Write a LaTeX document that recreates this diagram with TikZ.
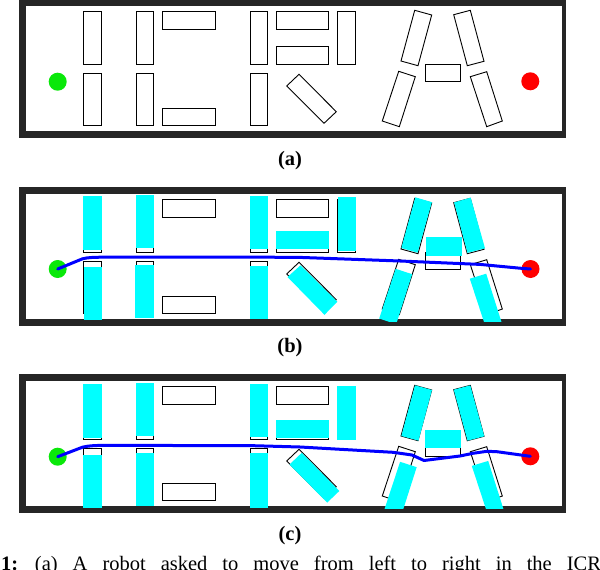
\documentclass[tikz,border=0pt]{standalone}
\usepackage{fontspec}
\setmainfont{Liberation Serif}
\definecolor{wallc}{RGB}{38,38,38}
\definecolor{gdot}{RGB}{10,232,10}
\definecolor{rdot}{RGB}{255,0,0}
\definecolor{cyanc}{RGB}{0,255,255}
\definecolor{pathc}{RGB}{0,0,255}
\tikzset{
  obst/.style={draw=black,line width=0.9pt},
  movedobst/.style={fill=cyanc},
  walls/.style={fill=wallc},
  startdot/.style={circle,fill=gdot,minimum size=18pt,inner sep=0pt},
  goaldot/.style={circle,fill=rdot,minimum size=18pt,inner sep=0pt},
  robotpath/.style={draw=pathc,line width=3pt,line join=round,line cap=round},
  sublabel/.style={font=\fontsize{20.5}{24}\selectfont\bfseries,anchor=base,inner sep=0pt}
}
\newcommand{\ICRAwalls}{%
  \fill[walls] (19,-1) rectangle (565.5,137.5);
  \fill[white] (26,6) rectangle (561.5,131);
}
\newcommand{\ICRAoutlines}{%
  \draw[obst] (83.3,11.3) rectangle (101.7,64.3);
  \draw[obst] (83.3,73.3) rectangle (101.7,125.3);
  \draw[obst] (136.3,11.3) rectangle (153.7,64.3);
  \draw[obst] (136.3,73.3) rectangle (153.7,125.3);
  \draw[obst] (162.3,11.3) rectangle (215.3,29.3);
  \draw[obst] (162.3,108.3) rectangle (215.3,125.3);
  \draw[obst] (250.3,11.3) rectangle (267.7,64.3);
  \draw[obst] (250.3,73.3) rectangle (267.7,125.3);
  \draw[obst] (276.3,11.3) rectangle (328.7,29.3);
  \draw[obst] (276.3,46.3) rectangle (328.7,64.3);
  \draw[obst] (337.3,11.3) rectangle (355.3,64.3);
  \draw[obst] (299,74.3) -- (336.3,111.7) -- (324,123.3) -- (286.7,86) -- cycle;
  \draw[obst] (414.7,10.3) -- (431.7,15) -- (418,65.7) -- (401,61) -- cycle;
  \draw[obst] (398.7,71.3) -- (415.3,76.7) -- (399.3,126.7) -- (382.3,121) -- cycle;
  \draw[obst] (453.7,14.7) -- (470.3,10.3) -- (484,61.3) -- (467.3,65.7) -- cycle;
  \draw[obst] (470.3,76.7) -- (486.7,71.7) -- (502.3,121) -- (486.7,126.7) -- cycle;
  \draw[obst] (425.3,64.3) rectangle (460.3,81);
}
\begin{document}
\begin{tikzpicture}[x=1pt,y=-1pt]
\useasboundingbox (0,0) rectangle (600,570);
\clip (0,0) rectangle (600,570);
\fill[white] (0,0) rectangle (600,570);

% ---------------- panel (a)
\ICRAwalls
\ICRAoutlines
\node[startdot] (sa) at (57.7,81.7) {};
\node[goaldot] (ga) at (530.3,81.3) {};
\node[sublabel] (la) at (290,165) {(a)};

% ---------------- panel (b)
\begin{scope}[yshift=-188pt]
\ICRAwalls
\ICRAoutlines
\begin{scope}
\clip (19,0) rectangle (565.5,133.6);
\fill[movedobst] (83.3,8) rectangle (101.7,62);
\fill[movedobst] (84,79) rectangle (101.7,132);
\fill[movedobst] (136,7) rectangle (153.7,60.3);
\fill[movedobst] (135,77) rectangle (153.7,130.3);
\fill[movedobst] (250,8) rectangle (267.7,61.3);
\fill[movedobst] (250,78) rectangle (267.7,130.7);
\fill[movedobst] (276.3,43) rectangle (329.3,61);
\fill[movedobst] (337.7,8.7) rectangle (355.7,63);
\fill[movedobst] (300.5,77.3) -- (337.3,113.7) -- (324.5,126.8) -- (287.5,89) -- cycle;
\fill[movedobst] (415.3,9.3) -- (431.9,14.2) -- (417.6,64.7) -- (401.3,60) -- cycle;
\fill[movedobst] (454.1,14.4) -- (470.7,9.6) -- (485,60.3) -- (467.4,64.9) -- cycle;
\fill[movedobst] (395.6,80.8) -- (412.2,86.2) -- (396.2,136.2) -- (379.2,130.5) -- cycle;
\fill[movedobst] (469.8,90.7) -- (486.2,85.7) -- (501.8,135) -- (486.2,140.7) -- cycle;
\fill[movedobst] (426,48.7) rectangle (462,68);
\end{scope}
\node[startdot] (sb) at (57.7,81) {};
\node[goaldot] (gb) at (530.5,81) {};
\draw[robotpath] (sb.center) -- (82.5,70.8) .. controls (88,69.4) and (94,69.3) .. (102,69.2)
  -- (250,69.1) -- (300,69.4) -- (400,73) -- (480,76.4) -- (520,80.2) -- (gb.center);
\node[sublabel] (lb) at (290,164) {(b)};
\end{scope}

% ---------------- panel (c)
\begin{scope}[yshift=-375pt]
\ICRAwalls
\ICRAoutlines
\begin{scope}
\clip (19,0) rectangle (565.5,133.6);
\fill[movedobst] (83.3,9) rectangle (101.7,63);
\fill[movedobst] (83.3,80) rectangle (101.7,132.7);
\fill[movedobst] (136,8) rectangle (153.7,60.7);
\fill[movedobst] (136,77.7) rectangle (153.7,131);
\fill[movedobst] (250,9) rectangle (267.7,61.7);
\fill[movedobst] (250,78.3) rectangle (267.7,132.7);
\fill[movedobst] (276.3,45) rectangle (329,63.3);
\fill[movedobst] (337,10.7) rectangle (355.7,65);
\fill[movedobst] (301.8,77.8) -- (339.3,116) -- (327.2,127.6) -- (289.5,89.5) -- cycle;
\fill[movedobst] (415,10.3) -- (432,15) -- (418.5,65.7) -- (401.3,61) -- cycle;
\fill[movedobst] (453.7,14.7) -- (470.3,10.3) -- (484.3,61.3) -- (467.5,65.7) -- cycle;
\fill[movedobst] (400.1,86.8) -- (416.7,92.2) -- (400.7,142.2) -- (383.7,136.5) -- cycle;
\fill[movedobst] (471.8,90.9) -- (488.2,85.9) -- (503.8,135.2) -- (488.2,140.9) -- cycle;
\fill[movedobst] (425,55) rectangle (461.3,72.7);
\end{scope}
\node[startdot] (sc) at (57.7,81.7) {};
\node[goaldot] (gc) at (530.3,81.3) {};
\draw[robotpath] (sc.center) -- (82.5,72.2) .. controls (88,70.8) and (94,70.5) .. (102,70.4)
  -- (250,70.6) -- (300,72) -- (393,77.3) -- (412,80) -- (424,85.5) -- (460,81)
  -- (473,78.3) -- (487,76.3) -- (497,76.7) -- (gc.center);
\node[sublabel] (lc) at (290,165) {(c)};
\end{scope}

% ---------------- caption (cut by the bottom edge)
\node[anchor=base west,inner sep=0pt,font=\fontsize{20.5}{24}\selectfont] (cap) at (1,570)
  {\spaceskip=15pt\relax\textbf{1:} (a) A robot asked to move from left to right in the ICRA};
\end{tikzpicture}
\end{document}
